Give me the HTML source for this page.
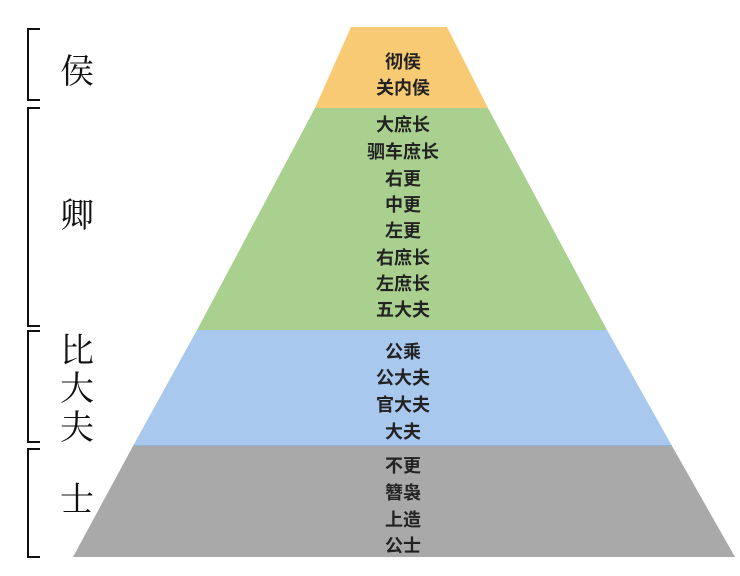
<!DOCTYPE html>
<html><head><meta charset="utf-8"><style>
html,body{margin:0;padding:0;background:#fff;}
svg{display:block;}
.t{font-size:18px;font-weight:bold;fill:#222;text-anchor:middle;font-family:"Liberation Sans","Noto Sans CJK SC",sans-serif;}
.l{font-size:34px;fill:#111;text-anchor:middle;font-family:"Noto Serif CJK SC","Liberation Serif",serif;}
</style></head><body>
<svg width="740" height="576" viewBox="0 0 740 576" xmlns="http://www.w3.org/2000/svg">
<polygon points="351,27 447,27 488,108 315,108" fill="#f8ca74"/>
<polygon points="315,108 488,108 607,330 197,330" fill="#a9d08e"/>
<polygon points="197,330 607,330 672,446 133,446" fill="#a8c8ee"/>
<line x1="133" y1="446" x2="672" y2="446" stroke="#7a9cc0" stroke-width="1"/>
<polygon points="133,446 672,446 735,557 73,557" fill="#a9a9a9"/>
<g fill="none" stroke="#111" stroke-width="2">
<path d="M40,29 H28 V100 H40"/>
<path d="M40,108 H28 V326 H40"/>
<path d="M40,331 H28 V442 H40"/>
<path d="M40,449 H28 V557 H40"/>
</g>
<text class="l" x="77" y="83">侯</text>
<text class="l" x="77" y="227">卿</text>
<text class="l" x="77" y="362">比</text>
<text class="l" x="77" y="400">大</text>
<text class="l" x="77" y="439">夫</text>
<text class="l" x="77" y="511">士</text>
<text class="t" x="403" y="68">彻侯</text>
<text class="t" x="403" y="94">关内侯</text>
<text class="t" x="403" y="131">大庶长</text>
<text class="t" x="403" y="158">驷车庶长</text>
<text class="t" x="403" y="185">右更</text>
<text class="t" x="403" y="211">中更</text>
<text class="t" x="403" y="237">左更</text>
<text class="t" x="403" y="264">右庶长</text>
<text class="t" x="403" y="290">左庶长</text>
<text class="t" x="403" y="316">五大夫</text>
<text class="t" x="403" y="358">公乘</text>
<text class="t" x="403" y="384">公大夫</text>
<text class="t" x="403" y="411">官大夫</text>
<text class="t" x="403" y="438">大夫</text>
<text class="t" x="403" y="472">不更</text>
<text class="t" x="403" y="499">簪袅</text>
<text class="t" x="403" y="526">上造</text>
<text class="t" x="403" y="552">公士</text>
</svg>
</body></html>
